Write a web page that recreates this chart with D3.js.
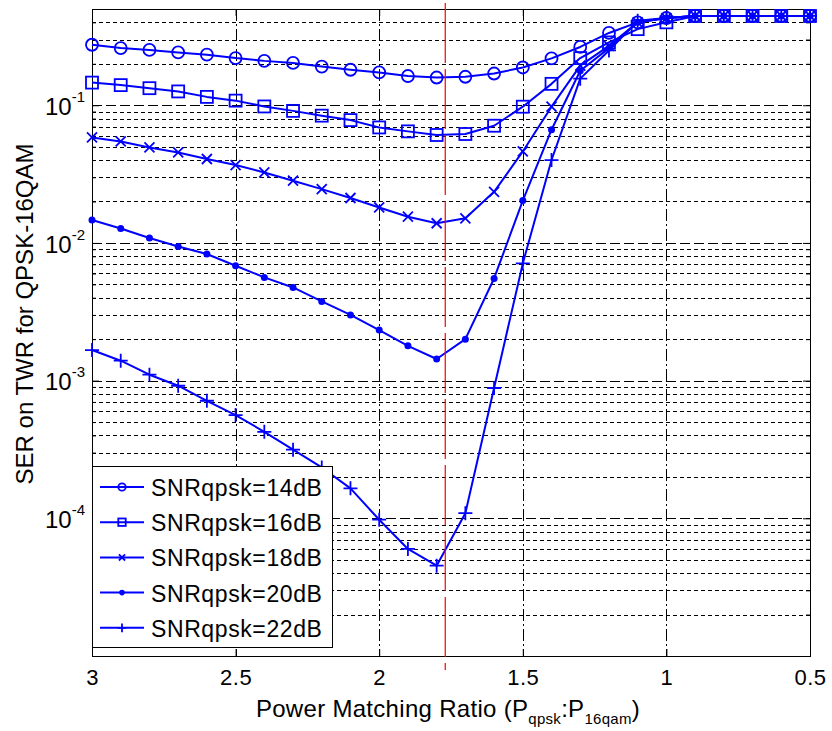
<!DOCTYPE html>
<html>
<head>
<meta charset="utf-8">
<script src="https://cdn.jsdelivr.net/npm/d3@7"></script>
<style>
  body { margin: 0; background: #fff; }
  text { font-family: "Liberation Sans", Arial, Helvetica, sans-serif; fill: #000; }
</style>
</head>
<body>
<svg id="chart" width="832" height="731"></svg>
<script>
// Power matching ratio P_qpsk : P_16qam (x axis, plotted right to left)
const ratio = [3.0, 2.9, 2.8, 2.7, 2.6, 2.5, 2.4, 2.3, 2.2, 2.1, 2.0, 1.9, 1.8,
               1.7, 1.6, 1.5, 1.4, 1.3, 1.2, 1.1, 1.0, 0.9, 0.8, 0.7, 0.6, 0.5];

// Symbol error rate on the two-way relay, one array per QPSK SNR
const ser14dB = [0.275, 0.260, 0.252, 0.242, 0.233, 0.220, 0.210, 0.203, 0.191, 0.181, 0.173, 0.163, 0.159,
                 0.161, 0.170, 0.188, 0.219, 0.265, 0.335, 0.400, 0.430, 0.445, 0.445, 0.445, 0.445, 0.445];
const ser16dB = [0.146, 0.140, 0.133, 0.126, 0.115, 0.108, 0.098, 0.091, 0.084, 0.078, 0.069, 0.0646, 0.0608,
                 0.0618, 0.071, 0.0976, 0.143, 0.220, 0.286, 0.357, 0.400, 0.445, 0.445, 0.445, 0.445, 0.445];
const ser18dB = [0.0584, 0.0546, 0.0494, 0.0454, 0.0407, 0.0368, 0.0325, 0.0283, 0.0246, 0.0212, 0.0181, 0.0155, 0.0139,
                 0.0151, 0.0235, 0.0462, 0.0976, 0.194, 0.270, 0.400, 0.430, 0.445, 0.445, 0.445, 0.445, 0.445];
const ser20dB = [0.01466, 0.01274, 0.01085, 0.00943, 0.00831, 0.00683, 0.00562, 0.00475, 0.00376, 0.00300, 0.00233, 0.00179, 0.001435,
                 0.00200, 0.00552, 0.0203, 0.0664, 0.178, 0.260, 0.400, 0.430, 0.445, 0.445, 0.445, 0.445, 0.445];
const ser22dB = [0.001668, 0.001395, 0.001104, 0.000918, 0.000714, 0.000562, 0.000425, 0.000315, 0.000234, 0.000165, 0.0000977, 0.0000599, 0.0000453,
                 0.000109, 0.000884, 0.0071, 0.040, 0.156, 0.250, 0.410, 0.430, 0.445, 0.445, 0.445, 0.445, 0.445];

const seriesLabels = ["SNRqpsk=14dB", "SNRqpsk=16dB", "SNRqpsk=18dB", "SNRqpsk=20dB", "SNRqpsk=22dB"];
const seriesMarkers = ["circle", "square", "x", "dot", "plus"];
const seriesValues = [ser14dB, ser16dB, ser18dB, ser20dB, ser22dB];

const xTicks = [3, 2.5, 2, 1.5, 1, 0.5];
const yTicks = [1e-4, 1e-3, 1e-2, 1e-1];
const yTickExponents = ["-4", "-3", "-2", "-1"];
const yDomain = [1e-5, 0.5];
const optimumRatio = 1.77;

const W = 832, H = 731;
const margin = { top: 9, right: 22, bottom: 75, left: 92 };
const iw = W - margin.left - margin.right;
const ih = H - margin.top - margin.bottom;
const BLUE = "#0000ff";

const svg = d3.select("#chart");
svg.append("rect").attr("width", W).attr("height", H).attr("fill", "#fff");
const g = svg.append("g").attr("transform", `translate(${margin.left},${margin.top})`);

const x = d3.scaleLinear().domain([3, 0.5]).range([0, iw]);
const y = d3.scaleLog().domain(yDomain).range([ih, 0]);

// minor decade values 2..9 x 10^k inside the domain
const minorVals = [];
for (let e = -5; e <= -1; e++) {
  for (let m = 2; m <= 9; m++) {
    const v = m * Math.pow(10, e);
    if (v > yDomain[0] && v < yDomain[1]) minorVals.push(v);
  }
}

// grid
const grid = g.append("g").attr("stroke", "#000").attr("stroke-width", 1).attr("fill", "none");
grid.selectAll(".minor").data(minorVals).join("line")
  .attr("x1", 0).attr("x2", iw)
  .attr("y1", d => Math.round(y(d)) + 0.5).attr("y2", d => Math.round(y(d)) + 0.5)
  .attr("stroke-dasharray", "4,3");
grid.selectAll(".major").data(yTicks).join("line")
  .attr("x1", 0).attr("x2", iw)
  .attr("y1", d => Math.round(y(d)) + 0.5).attr("y2", d => Math.round(y(d)) + 0.5)
  .attr("stroke-dasharray", "10,4");
grid.selectAll(".vgrid").data(xTicks.filter(d => d !== 3 && d !== 0.5)).join("line")
  .attr("x1", d => Math.round(x(d)) + 0.5).attr("x2", d => Math.round(x(d)) + 0.5)
  .attr("y1", 0).attr("y2", ih)
  .attr("stroke-dasharray", "12,3,2,3");

// axes with inward ticks
const fmtX = d3.format("");
g.append("g").attr("transform", `translate(0,${ih})`)
  .call(d3.axisBottom(x).tickValues(xTicks).tickSizeInner(-7).tickSizeOuter(0).tickPadding(13).tickFormat(d => fmtX(d)))
  .call(a => a.select(".domain").remove())
  .call(a => a.selectAll("line").attr("stroke", "#000"))
  .call(a => a.selectAll("text").attr("font-size", 22).attr("font-family", null).attr("fill", "#000")
    .attr("letter-spacing", "0.5px"));
g.append("g")
  .call(d3.axisTop(x).tickValues(xTicks).tickSizeInner(-7).tickSizeOuter(0).tickFormat(""))
  .call(a => a.select(".domain").remove())
  .call(a => a.selectAll("line").attr("stroke", "#000"));

const yAxisL = g.append("g")
  .call(d3.axisLeft(y).tickValues(yTicks).tickSizeInner(-7).tickSizeOuter(0).tickPadding(7).tickFormat(() => ""))
  .call(a => a.select(".domain").remove())
  .call(a => a.selectAll("line").attr("stroke", "#000"));
yAxisL.selectAll(".tick text")
  .attr("font-size", 24).attr("font-family", null).attr("fill", "#000").attr("dy", "0.38em")
  .each(function (d, i) {
    const t = d3.select(this);
    t.append("tspan").text("10");
    t.append("tspan").attr("font-size", 15).attr("dy", -13).text(yTickExponents[i]);
  });
g.append("g")
  .call(d3.axisLeft(y).tickValues(minorVals).tickSizeInner(-4).tickSizeOuter(0).tickFormat(""))
  .call(a => a.select(".domain").remove())
  .call(a => a.selectAll("line").attr("stroke", "#000"));
g.append("g").attr("transform", `translate(${iw},0)`)
  .call(d3.axisRight(y).tickValues(yTicks).tickSizeInner(-7).tickSizeOuter(0).tickFormat(""))
  .call(a => a.select(".domain").remove())
  .call(a => a.selectAll("line").attr("stroke", "#000"));
g.append("g").attr("transform", `translate(${iw},0)`)
  .call(d3.axisRight(y).tickValues(minorVals).tickSizeInner(-4).tickSizeOuter(0).tickFormat(""))
  .call(a => a.select(".domain").remove())
  .call(a => a.selectAll("line").attr("stroke", "#000"));

// frame
g.append("rect").attr("x", 0.5).attr("y", 0.5).attr("width", iw).attr("height", ih)
  .attr("fill", "none").attr("stroke", "#000").attr("stroke-width", 1);

// markers
function marker(sel, type, s) {
  if (type === "circle") {
    sel.append("circle").attr("r", 6 * s).attr("fill", "none").attr("stroke", BLUE).attr("stroke-width", 1.8);
  } else if (type === "square") {
    sel.append("rect").attr("x", -6 * s).attr("y", -6 * s).attr("width", 12 * s).attr("height", 12 * s)
      .attr("fill", "none").attr("stroke", BLUE).attr("stroke-width", 1.8);
  } else if (type === "x") {
    sel.append("path").attr("d", `M${-5 * s},${-5 * s}L${5 * s},${5 * s}M${-5 * s},${5 * s}L${5 * s},${-5 * s}`)
      .attr("stroke", BLUE).attr("stroke-width", 1.8);
  } else if (type === "dot") {
    sel.append("circle").attr("r", 3.5 * Math.max(s, 0.8)).attr("fill", BLUE);
  } else if (type === "plus") {
    sel.append("path").attr("d", `M${-7 * s},0H${7 * s}M0,${-7 * s}V${7 * s}`)
      .attr("stroke", BLUE).attr("stroke-width", 1.8);
  }
}

// series
const line = d3.line().x((d, i) => x(ratio[i])).y(d => y(d));
seriesValues.forEach((vals, k) => {
  const sg = g.append("g");
  sg.append("path").datum(vals).attr("d", line)
    .attr("fill", "none").attr("stroke", BLUE).attr("stroke-width", 2).attr("stroke-linejoin", "round");
  sg.selectAll(".m").data(vals).join("g")
    .attr("transform", (d, i) => `translate(${x(ratio[i])},${y(d)})`)
    .each(function () { marker(d3.select(this), seriesMarkers[k], 1); });
});

// optimum power matching ratio
g.append("line")
  .attr("x1", x(optimumRatio)).attr("x2", x(optimumRatio))
  .attr("y1", -6).attr("y2", ih + 14)
  .attr("stroke", "#ff0000").attr("stroke-width", 1.2).attr("stroke-dasharray", "60,6");

// legend
const lg = g.append("g").attr("transform", `translate(0,${466 - margin.top})`);
lg.append("rect").attr("x", 0.5).attr("y", 0.5).attr("width", 240).attr("height", 181)
  .attr("fill", "#fff").attr("stroke", "#000").attr("stroke-width", 1);
seriesLabels.forEach((lab, k) => {
  const cy = 21 + k * 35.2;
  const eg = lg.append("g").attr("transform", `translate(0,${cy})`);
  eg.append("line").attr("x1", 8).attr("x2", 52).attr("stroke", BLUE).attr("stroke-width", 2);
  const mg = eg.append("g").attr("transform", "translate(30,0)");
  marker(mg, seriesMarkers[k], 0.62);
  eg.append("text").attr("x", 59).attr("y", 9).attr("font-size", 23).attr("letter-spacing", "0.6px").text(lab);
});

// axis titles
const xt = svg.append("text").attr("x", margin.left + iw / 2 - 3).attr("y", 717)
  .attr("text-anchor", "middle").attr("font-size", 24).attr("letter-spacing", "0.3px");
xt.append("tspan").text("Power Matching Ratio (P");
xt.append("tspan").attr("font-size", 15).attr("dy", 7).text("qpsk");
xt.append("tspan").attr("dy", -7).text(":P");
xt.append("tspan").attr("font-size", 15).attr("dy", 7).text("16qam");
xt.append("tspan").attr("dy", -7).text(")");

svg.append("text").attr("transform", "translate(33,314) rotate(-90)")
  .attr("text-anchor", "middle").attr("font-size", 24).text("SER on TWR for QPSK-16QAM");
</script>
</body>
</html>
